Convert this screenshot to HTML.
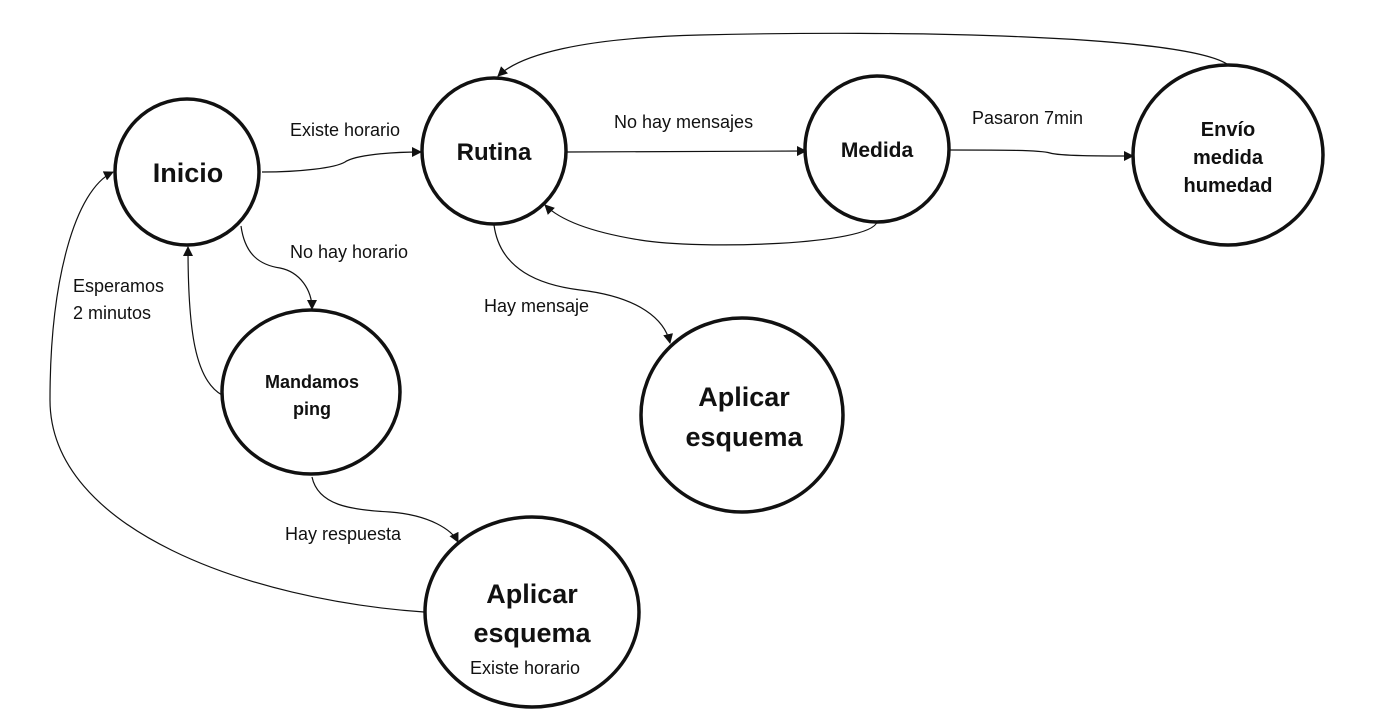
<!DOCTYPE html>
<html><head><meta charset="utf-8"><style>
html,body{margin:0;padding:0;background:#fff;}
svg{display:block;}
text{font-family:"Liberation Sans",sans-serif;fill:#111;}
.n{font-weight:bold;text-anchor:middle;}
.l{font-size:18px;}
</style></head><body>
<svg width="1389" height="719" viewBox="0 0 1389 719" xmlns="http://www.w3.org/2000/svg">
<defs><marker id="a" markerWidth="10" markerHeight="10" refX="9" refY="5" orient="auto" markerUnits="userSpaceOnUse"><path d="M0,0 L10,5 L0,10 z" fill="#111"/></marker></defs>
<g fill="none" stroke="#111" stroke-width="3.5">
<ellipse cx="187" cy="172" rx="72" ry="73"/>
<ellipse cx="494" cy="151" rx="72" ry="73"/>
<ellipse cx="877" cy="149" rx="72" ry="73"/>
<ellipse cx="1228" cy="155" rx="95" ry="90"/>
<ellipse cx="311" cy="392" rx="89" ry="82"/>
<ellipse cx="742" cy="415" rx="101" ry="97"/>
<ellipse cx="532" cy="612" rx="107" ry="95"/>
</g>
<g fill="none" stroke="#111" stroke-width="1.2" marker-end="url(#a)">
<path d="M262,172 C300,172 335,168 345,162 C355,155 390,152 421,152"/>
<path d="M567,152 L806,151"/>
<path d="M950,150 C1000,150 1040,150 1050,153 C1060,156 1100,156 1133,156"/>
<path d="M1227,64 C1180,35 900,30 700,35 C580,38 520,55 498,76"/>
<path d="M877,222 C870,245 700,250 640,240 C590,232 560,220 545,205"/>
<path d="M494,225 C500,270 540,285 580,290 C640,297 665,320 670,343"/>
<path d="M241,226 C245,255 260,265 280,268 C300,272 312,290 312,309"/>
<path d="M222,395 C195,380 188,330 188,247"/>
<path d="M312,477 C318,505 350,510 390,512 C430,515 452,530 458,542"/>
<path d="M424,612 C250,600 50,530 50,400 C50,280 75,190 113,172"/>
</g>
<text class="n" x="188" y="182" font-size="27">Inicio</text>
<text class="n" x="494" y="160" font-size="24">Rutina</text>
<text class="n" x="877" y="157" font-size="21">Medida</text>
<text class="n" x="1228" y="136" font-size="20">Envío</text>
<text class="n" x="1228" y="164" font-size="20">medida</text>
<text class="n" x="1228" y="192" font-size="20">humedad</text>
<text class="n" x="312" y="388" font-size="18">Mandamos</text>
<text class="n" x="312" y="415" font-size="18">ping</text>
<text class="n" x="744" y="406" font-size="27">Aplicar</text>
<text class="n" x="744" y="446" font-size="27">esquema</text>
<text class="n" x="532" y="603" font-size="27">Aplicar</text>
<text class="n" x="532" y="642" font-size="27">esquema</text>
<text class="l" x="470" y="674">Existe horario</text>
<text class="l" x="290" y="136">Existe horario</text>
<text class="l" x="614" y="128">No hay mensajes</text>
<text class="l" x="972" y="124">Pasaron 7min</text>
<text class="l" x="290" y="258">No hay horario</text>
<text class="l" x="73" y="292">Esperamos</text>
<text class="l" x="73" y="319">2 minutos</text>
<text class="l" x="484" y="312">Hay mensaje</text>
<text class="l" x="285" y="540">Hay respuesta</text>
</svg>
</body></html>
